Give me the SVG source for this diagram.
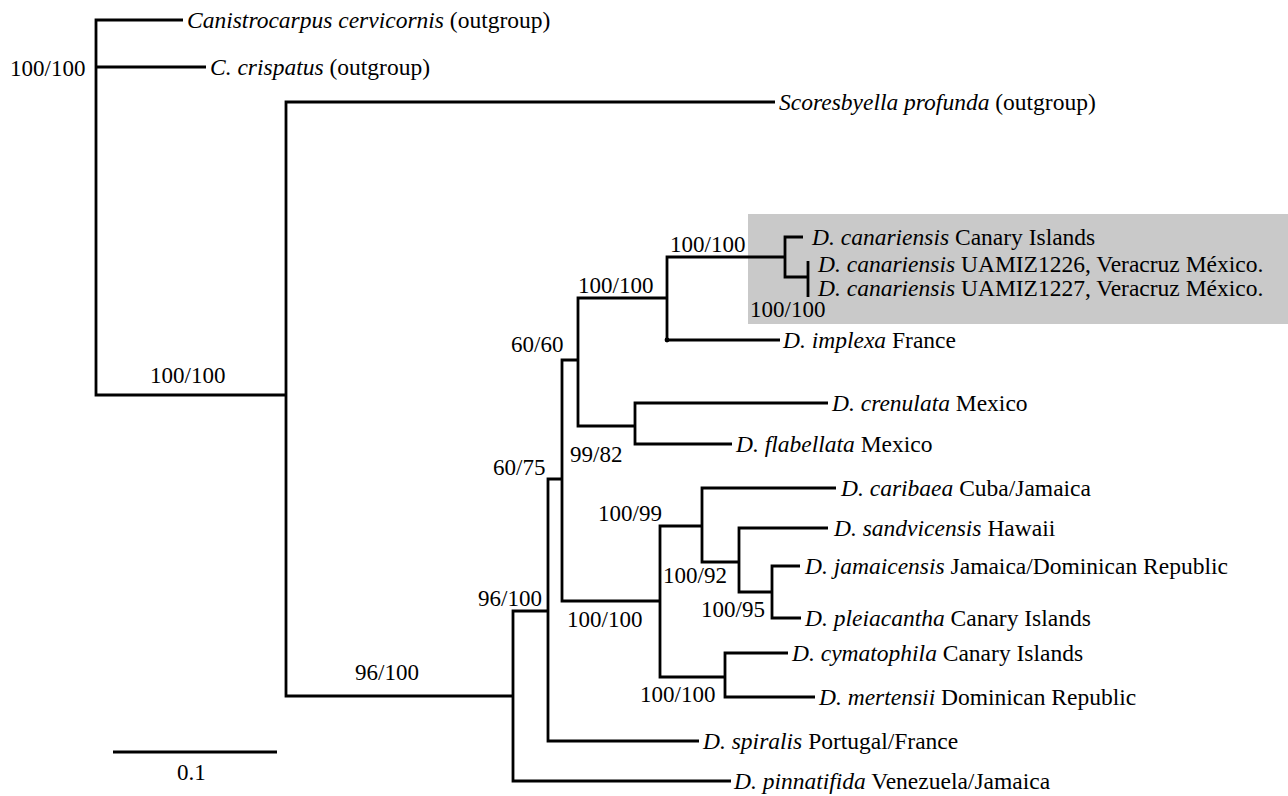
<svg xmlns="http://www.w3.org/2000/svg" width="1288" height="796" viewBox="0 0 1288 796">
<style>
.t{font-size:23.5px}
.s{font-size:23px}
.i{font-style:italic}
.br{fill:none;stroke:#000;stroke-width:2.8;stroke-linejoin:miter;stroke-linecap:butt}
</style>
<rect id="highlight" x="748" y="214" width="540" height="110" fill="#c9c9c9"/>
<g id="connectors" class="br">
<path d="M183,20 H96 V395 H286"/>
<path d="M96,67 H206"/>
<path d="M775,102 H286 V696 H513"/>
<path d="M548,611 H513 V781 H731"/>
<path d="M562,479 H548 V741 H699"/>
<path d="M578,360 H562 V601 H660"/>
<path d="M667,298 H578 V426 H635"/>
<path d="M785,257 H667 V340 H780"/>
<path d="M803,237 H785 V277 H808"/>
<path d="M808,261 V297"/>
<path d="M828,403 H635 V444 H732"/>
<path d="M702,526 H660 V677 H725"/>
<path d="M836,488 H702 V562 H739"/>
<path d="M828,528 H739 V592 H772"/>
<path d="M800,566 H772 V618 H801"/>
<path d="M788,653 H725 V697 H815"/>
<circle cx="667" cy="340" r="2.4" fill="#000" stroke="none"/>
<path d="M113,752 H277"/>
</g>
<g font-family="Liberation Serif, Times New Roman, serif" fill="#000">
<g id="taxon-canistrocarpus"><text class="t" x="187" y="28"><tspan class="i">Canistrocarpus cervicornis</tspan> (outgroup)</text></g>
<g id="taxon-crispatus"><text class="t" x="210" y="75"><tspan class="i">C. crispatus</tspan> (outgroup)</text></g>
<g id="taxon-scoresbyella"><text class="t" x="779" y="110"><tspan class="i">Scoresbyella profunda</tspan> (outgroup)</text></g>
<g id="taxon-canariensis-ci"><text class="t" x="812" y="245"><tspan class="i">D. canariensis</tspan> Canary Islands</text></g>
<g id="taxon-canariensis-1226"><text class="t" x="818" y="272"><tspan class="i">D. canariensis</tspan> UAMIZ1226, Veracruz México.</text></g>
<g id="taxon-canariensis-1227"><text class="t" x="818" y="296"><tspan class="i">D. canariensis</tspan> UAMIZ1227, Veracruz México.</text></g>
<g id="taxon-implexa"><text class="t" x="783" y="348"><tspan class="i">D. implexa</tspan> France</text></g>
<g id="taxon-crenulata"><text class="t" x="832" y="411"><tspan class="i">D. crenulata</tspan> Mexico</text></g>
<g id="taxon-flabellata"><text class="t" x="736" y="452"><tspan class="i">D. flabellata</tspan> Mexico</text></g>
<g id="taxon-caribaea"><text class="t" x="841" y="496"><tspan class="i">D. caribaea</tspan> Cuba/Jamaica</text></g>
<g id="taxon-sandvicensis"><text class="t" x="834" y="536"><tspan class="i">D. sandvicensis</tspan> Hawaii</text></g>
<g id="taxon-jamaicensis"><text class="t" x="805" y="574"><tspan class="i">D. jamaicensis</tspan> Jamaica/Dominican Republic</text></g>
<g id="taxon-pleiacantha"><text class="t" x="805" y="626"><tspan class="i">D. pleiacantha</tspan> Canary Islands</text></g>
<g id="taxon-cymatophila"><text class="t" x="792" y="661"><tspan class="i">D. cymatophila</tspan> Canary Islands</text></g>
<g id="taxon-mertensii"><text class="t" x="819" y="705"><tspan class="i">D. mertensii</tspan> Dominican Republic</text></g>
<g id="taxon-spiralis"><text class="t" x="703" y="749"><tspan class="i">D. spiralis</tspan> Portugal/France</text></g>
<g id="taxon-pinnatifida"><text class="t" x="734" y="789"><tspan class="i">D. pinnatifida</tspan> Venezuela/Jamaica</text></g>
<g id="node-root"><text class="s" x="10" y="76">100/100</text></g>
<g id="node-ingroup"><text class="s" x="150" y="383">100/100</text></g>
<g id="node-dict-a"><text class="s" x="355" y="680">96/100</text></g>
<g id="node-dict-b"><text class="s" x="478" y="606">96/100</text></g>
<g id="node-60-75"><text class="s" x="493" y="475">60/75</text></g>
<g id="node-99-82"><text class="s" x="570" y="462">99/82</text></g>
<g id="node-60-60"><text class="s" x="511" y="352">60/60</text></g>
<g id="node-n5"><text class="s" x="578" y="293">100/100</text></g>
<g id="node-n6"><text class="s" x="670" y="252">100/100</text></g>
<g id="node-n8"><text class="s" x="750" y="317">100/100</text></g>
<g id="node-n10"><text class="s" x="567" y="627">100/100</text></g>
<g id="node-n11"><text class="s" x="598" y="521">100/99</text></g>
<g id="node-n12"><text class="s" x="663" y="583">100/92</text></g>
<g id="node-n13"><text class="s" x="701" y="617">100/95</text></g>
<g id="node-n14"><text class="s" x="640" y="702">100/100</text></g>
<g id="scale"><text class="s" x="177" y="780">0.1</text></g>
</g>
</svg>
